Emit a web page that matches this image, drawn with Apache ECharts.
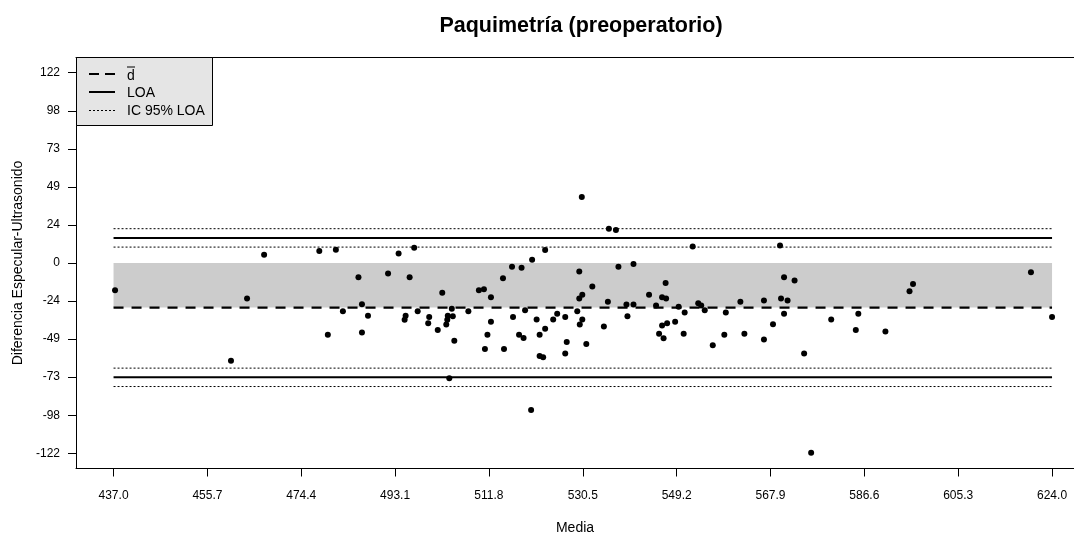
<!DOCTYPE html>
<html>
<head>
<meta charset="utf-8">
<script src="https://cdn.jsdelivr.net/npm/echarts@6/dist/echarts.min.js"></script>
<style>html,body{margin:0;padding:0;background:#fff}#c{width:1074px;height:535px}</style>
</head>
<body>
<div id="c"></div>
<script>
// Media (x) and Diferencia (y) per eye
var media = [437.3,463.6,467.0,460.4,478.0,481.3,479.7,482.7,485.8,486.5,487.7,486.5,491.7,493.8,496.9,496.0,495.2,495.0,497.6,499.9,499.7,501.6,502.5,504.4,504.6,503.6,503.5,503.3,504.9,503.9,507.7,509.8,510.8,512.2,512.2,511.5,511.0,514.8,514.6,516.4,518.3,520.4,516.6,519.0,517.8,518.7,521.3,521.9,521.9,522.6,520.2,530.3,535.7,537.1,552.4,523.0,523.0,524.6,525.4,527.0,527.3,527.0,529.4,529.8,529.8,530.4,530.4,529.9,531.2,532.4,534.7,535.5,537.6,539.2,540.6,539.4,540.6,543.7,545.1,547.0,546.3,547.1,546.3,547.3,545.7,546.6,548.9,549.6,550.8,550.6,553.5,554.1,554.8,556.4,569.8,570.6,572.7,570.0,571.3,570.6,566.6,561.9,559.0,558.7,562.7,566.6,568.4,574.6,580.0,585.4,584.9,590.8,576.0,595.6,596.3,619.8,624.0];
var diferencia = [-17.5,-22.8,5.3,-62.6,7.7,8.5,-46.0,-30.9,-9.2,-26.4,-33.8,-44.5,-6.8,6.1,9.8,-9.2,-33.8,-36.4,-30.9,-34.7,-38.6,-43.0,-19.0,-29.4,-34.1,-33.8,-36.4,-39.4,-49.8,-73.9,-30.9,-17.5,-16.9,-22.0,-37.7,-46.0,-55.2,-55.2,-9.8,-2.4,-3.0,2.1,-34.7,-30.3,-46.0,-48.1,-36.2,-46.0,-59.6,-60.5,-94.3,42.3,21.9,21.1,10.6,8.3,-42.1,-36.2,-32.6,-34.7,-50.7,-58.1,-30.9,-5.4,-22.8,-20.4,-36.2,-39.4,-52.0,-15.1,-40.7,-24.9,-2.4,-26.6,-26.6,-34.1,-0.6,-20.4,-27.3,-12.8,-22.0,-22.8,-40.0,-38.6,-45.3,-48.3,-37.7,-28.1,-31.7,-45.3,-25.8,-27.3,-30.3,-52.8,11.2,-9.2,-11.3,-22.8,-24.1,-32.6,-24.1,-24.9,-31.7,-46.0,-45.3,-49.0,-39.2,-58.1,-36.2,-32.6,-43.0,-43.9,-121.6,-18.1,-13.4,-6.0,-34.7];
// Summary lines
var dMean = -28.6;
var loa = [16.1, -73.3];
var loaCI = [22.0, 10.2, -67.4, -79.2];
var xRange = [437.0, 624.0];
// Tick values
var xTicks = [437.0,455.7,474.4,493.1,511.8,530.5,549.2,567.9,586.6,605.3,624.0];
var yTicks = [-122,-97.6,-73.2,-48.8,-24.4,0,24.4,48.8,73.2,97.6,122];

var pts = media.map(function(m,i){return [m, diferencia[i]];});
function hline(v){return [[xRange[0], v],[xRange[1], v]];}
var xPad = (xRange[1]-xRange[0])*0.04;
var yPad = 244*0.04;
// plot region is clipped by the right edge of the picture
var gridLeft = 76, W = 1074;
var pxPerUnit = (1051 - 112.5) / (xRange[1]-xRange[0]);
var xMin = xRange[0]-xPad;
var xMax = xMin + (W - gridLeft) / pxPerUnit;

var chart = echarts.init(document.getElementById('c'), null, {renderer:'canvas'});
var font = 'Liberation Sans, Arial, sans-serif';
var lineSeries = [];
lineSeries.push({type:'line', data:hline(dMean), symbol:'none', silent:true, z:3,
  lineStyle:{color:'#000', width:2.2, type:[10,8]},
  markArea:{silent:true, itemStyle:{color:'#cccccc'}, data:[[{coord:[xRange[0],0]},{coord:[xRange[1],dMean]}]]}});
loa.forEach(function(v){
  lineSeries.push({type:'line', data:hline(v), symbol:'none', silent:true, z:3, lineStyle:{color:'#000', width:2, type:'solid'}});
});
loaCI.forEach(function(v){
  lineSeries.push({type:'line', data:hline(v), symbol:'none', silent:true, z:3, lineStyle:{color:'#000', width:1, type:[2,2]}});
});

chart.setOption({
  animation:false,
  backgroundColor:'#fff',
  title:{text:'Paquimetría (preoperatorio)', left:576, top:10, textAlign:'center',
    textStyle:{fontFamily:font, fontWeight:'bold', fontSize:21.5, color:'#000'}},
  grid:{left:gridLeft, right:0, top:57.5, bottom:66.5, show:false, outerBoundsMode:'none', containLabel:false},
  xAxis:[{type:'value', min:xMin, max:xMax,
    name:'Media', nameLocation:'middle', nameGap:53,
    nameTextStyle:{fontFamily:font, fontSize:14, color:'#000'},
    axisLine:{show:true, onZero:false, lineStyle:{color:'#000'}},
    axisTick:{show:true, length:8, customValues:xTicks, lineStyle:{color:'#000'}},
    axisLabel:{customValues:xTicks, margin:21, fontFamily:font, fontSize:12, color:'#000',
      formatter:function(v){return v.toFixed(1);}},
    splitLine:{show:false}},
   {type:'value', position:'top', min:xMin, max:xMax,
    axisLine:{show:true, onZero:false, lineStyle:{color:'#000'}},
    axisTick:{show:false}, axisLabel:{show:false}, splitLine:{show:false}}],
  yAxis:{type:'value', min:-122-yPad, max:122+yPad,
    name:'Diferencia Especular-Ultrasonido', nameLocation:'middle', nameGap:48, nameRotate:90,
    nameTextStyle:{fontFamily:font, fontSize:14, color:'#000'},
    axisLine:{show:true, onZero:false, lineStyle:{color:'#000'}},
    axisTick:{show:true, length:8, customValues:yTicks, lineStyle:{color:'#000'}},
    axisLabel:{customValues:yTicks, margin:16, fontFamily:font, fontSize:12, color:'#000',
      formatter:function(v){return String(Math.round(v));}},
    splitLine:{show:false}},
  series: lineSeries.concat([{type:'scatter', data:pts, symbol:'circle', symbolSize:6, z:5,
    itemStyle:{color:'#000', opacity:1}}]),
  graphic:[
    {type:'rect', shape:{x:76.5, y:57.5, width:136, height:68}, style:{fill:'#e5e5e5', stroke:'#000', lineWidth:1}, z:10},
    {type:'line', shape:{x1:89, y1:74, x2:115, y2:74}, style:{stroke:'#000', lineWidth:2.2, lineDash:[10,6]}, z:11},
    {type:'line', shape:{x1:89, y1:92, x2:115, y2:92}, style:{stroke:'#000', lineWidth:2}, z:11},
    {type:'line', shape:{x1:89, y1:110.5, x2:115, y2:110.5}, style:{stroke:'#000', lineWidth:1, lineDash:[2,2]}, z:11},
    {type:'text', x:127, y:76, style:{text:'d', fill:'#000', font:'14px '+font, textVerticalAlign:'middle'}, z:11},
    {type:'line', shape:{x1:127, y1:67, x2:135, y2:67}, style:{stroke:'#000', lineWidth:1}, z:11},
    {type:'text', x:127, y:93, style:{text:'LOA', fill:'#000', font:'14px '+font, textVerticalAlign:'middle'}, z:11},
    {type:'text', x:127, y:111.5, style:{text:'IC 95% LOA', fill:'#000', font:'14px '+font, textVerticalAlign:'middle'}, z:11}
  ]
});
</script>
</body>
</html>
